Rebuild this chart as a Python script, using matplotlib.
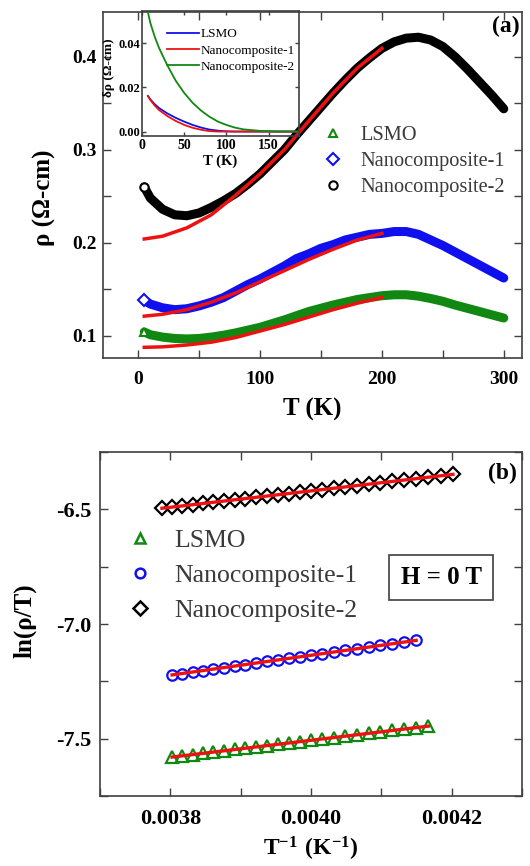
import matplotlib
matplotlib.use("Agg")
import matplotlib.pyplot as plt
import numpy as np
from matplotlib.ticker import MultipleLocator

plt.rcParams["font.family"] = ["Liberation Serif", "DejaVu Serif"]
plt.rcParams["axes.unicode_minus"] = False
plt.rcParams["mathtext.fontset"] = "custom"
plt.rcParams["mathtext.rm"] = "Liberation Serif"
plt.rcParams["mathtext.bf"] = "Liberation Serif:bold"

# ---- panel (a): resistivity vs T ----
T_data = [5, 10, 20, 30, 40, 50, 60, 70, 80, 90, 100, 110, 120, 130, 140, 150,
          160, 170, 180, 190, 200, 210, 220, 230, 240, 250, 260, 270, 280, 290, 300]
rho_lsmo = [0.104, 0.101, 0.0985, 0.097, 0.0965, 0.097, 0.0985, 0.1005, 0.103, 0.106,
            0.109, 0.113, 0.117, 0.1215, 0.126, 0.1295, 0.133, 0.136, 0.139, 0.141,
            0.143, 0.144, 0.144, 0.1425, 0.140, 0.137, 0.133, 0.1295, 0.126, 0.1225, 0.119]
rho_nc1 = [0.138, 0.134, 0.130, 0.128, 0.129, 0.132, 0.136, 0.141, 0.148, 0.155,
           0.161, 0.168, 0.175, 0.183, 0.188, 0.194, 0.198, 0.203, 0.206, 0.209,
           0.210, 0.212, 0.212, 0.209, 0.203, 0.197, 0.190, 0.183, 0.176, 0.169, 0.162]
rho_nc2 = [0.260, 0.248, 0.236, 0.230, 0.229, 0.232, 0.238, 0.245, 0.253, 0.263,
           0.274, 0.287, 0.300, 0.316, 0.331, 0.346, 0.361, 0.375, 0.388, 0.399,
           0.409, 0.416, 0.420, 0.421, 0.418, 0.411, 0.400, 0.387, 0.373, 0.359, 0.344]

T_fit = [5, 20, 40, 60, 80, 100, 120, 140, 160, 180, 200]
fit_lsmo = [0.0875, 0.088, 0.090, 0.093, 0.098, 0.105, 0.112, 0.120, 0.128, 0.135, 0.141]
fit_nc1 = [0.121, 0.123, 0.128, 0.136, 0.146, 0.158, 0.170, 0.182, 0.193, 0.203, 0.210]
fit_nc2 = [0.204, 0.207, 0.216, 0.230, 0.251, 0.274, 0.300, 0.331, 0.361, 0.388, 0.409]

# inset: delta rho
T_in = [7, 10, 15, 20, 30, 40, 50, 60, 70, 80, 90, 100, 110, 120, 140, 160, 185]
drho_lsmo = [0.0161, 0.0145, 0.0124, 0.0107, 0.0082, 0.0062, 0.0045, 0.0030, 0.0018,
             0.0009, 0.0004, 0.0001, 0, 0, 0, 0, 0]
drho_nc1 = [0.0161, 0.0142, 0.0118, 0.0098, 0.0070, 0.0048, 0.0030, 0.0017, 0.0008,
            0.0002, 0, 0, 0, 0, 0, 0, 0]
drho_nc2 = [0.054, 0.049, 0.043, 0.038, 0.030, 0.023, 0.0175, 0.013, 0.0095, 0.0067,
            0.0045, 0.0030, 0.0018, 0.0010, 0.0003, 0, 0]

# ---- panel (b): ln(rho/T) vs 1/T ----
T_b_lsmo = list(range(240, 264))
ln_lsmo = [-7.445, -7.452, -7.458, -7.464, -7.470, -7.477, -7.483, -7.489, -7.495,
           -7.501, -7.507, -7.513, -7.519, -7.524, -7.530, -7.536, -7.542, -7.547,
           -7.553, -7.558, -7.564, -7.569, -7.575, -7.580]
T_b_nc1 = list(range(241, 264))
ln_nc1 = [-7.071, -7.079, -7.086, -7.093, -7.101, -7.108, -7.115, -7.122, -7.129,
          -7.136, -7.143, -7.150, -7.157, -7.163, -7.170, -7.177, -7.183, -7.190,
          -7.196, -7.203, -7.209, -7.216, -7.222]
T_b_nc2 = list(range(238, 265))
ln_nc2 = [-6.347, -6.354, -6.360, -6.366, -6.372, -6.378, -6.384, -6.390, -6.396,
          -6.402, -6.408, -6.414, -6.419, -6.425, -6.431, -6.436, -6.442, -6.447,
          -6.453, -6.458, -6.464, -6.469, -6.474, -6.480, -6.485, -6.490, -6.495]

labels = ["LSMO", "Nanocomposite-1", "Nanocomposite-2"]
GREEN, BLUE, RED, BLACK = "#118811", "#1010ee", "#ee1111", "black"
SPINE = "#404040"


def style_axes(ax, size, pad_x, pad_y, length=6):
    for s in ax.spines.values():
        s.set_color(SPINE)
        s.set_linewidth(1.2)
    ax.tick_params(which="both", direction="in", top=True, right=True,
                   color=SPINE, width=1.0)
    ax.tick_params(which="major", length=length)
    ax.tick_params(which="minor", length=length)
    ax.tick_params(axis="x", pad=pad_x)
    ax.tick_params(axis="y", pad=pad_y)
    for lab in ax.get_xticklabels() + ax.get_yticklabels():
        lab.set_fontweight("bold")
        lab.set_fontsize(size)


fig = plt.figure(figsize=(5.30, 8.66), dpi=100)
ax1 = fig.add_axes([0.194, 0.5866, 0.791, 0.3994])
ax_in = fig.add_axes([0.268, 0.843, 0.296, 0.144])
ax2 = fig.add_axes([0.189, 0.0808, 0.796, 0.3972])

# panel (a)
for rho, col, mk in [(rho_lsmo, GREEN, "^"), (rho_nc1, BLUE, "D"), (rho_nc2, BLACK, "o")]:
    ax1.plot(T_data, rho, "-", color=col, lw=6.5, solid_capstyle="round", zorder=2)
    ax1.plot(T_data[:1], rho[:1], mk, color=col, mfc="white", ms=6, mew=1.5, zorder=3)
for fit in [fit_lsmo, fit_nc1, fit_nc2]:
    ax1.plot(T_fit, fit, "-", color=RED, lw=2.5, zorder=4)

hs = [ax1.plot([], [], mk, color=c, mfc="none", ms=6, mew=1.5)[0]
      for mk, c in [("^", GREEN), ("D", BLUE), ("o", BLACK)]]
leg = ax1.legend(hs, labels, loc="upper left", bbox_to_anchor=(0.525, 0.672),
                 frameon=False, fontsize=14.7, handlelength=1.0, handletextpad=0.85,
                 labelspacing=0.33, borderpad=0, borderaxespad=0)
for t in leg.get_texts():
    t.set_color("#3a3a3a")

ax1.set_xlim(-29, 315)
ax1.set_ylim(0.076, 0.448)
ax1.xaxis.set_minor_locator(MultipleLocator(50))
ax1.yaxis.set_minor_locator(MultipleLocator(0.05))
ax1.set_xticks([0, 100, 200, 300])
ax1.set_xticklabels(["0", "100", "200", "300"])
ax1.set_yticks([0.1, 0.2, 0.3, 0.4])
ax1.set_yticklabels(["0.1", "0.2", "0.3", "0.4"])
style_axes(ax1, 14, 9, 4.5)
ax1.set_xlabel("T (K)", fontsize=18, fontweight="bold", labelpad=7.5)
ax1.set_ylabel("ρ (Ω-cm)", fontsize=18, fontweight="bold")
ax1.yaxis.set_label_coords(-0.112, 0.462)
ax1.text(0.995, 0.96, "(a)", transform=ax1.transAxes, ha="right", va="center",
         fontsize=17, fontweight="bold")

# inset
ax_in.patch.set_alpha(0)
ax_in.plot(T_in, drho_lsmo, color=BLUE, lw=1.3, label=labels[0])
ax_in.plot(T_in, drho_nc1, color=RED, lw=1.3, label=labels[1])
ax_in.plot(T_in, drho_nc2, color=GREEN, lw=1.3, label=labels[2])
ax_in.set_xlim(0, 186)
ax_in.set_ylim(-0.002, 0.0545)
ax_in.set_xticks([0, 50, 100, 150])
ax_in.set_xticklabels(["0", "50", "100", "150"])
ax_in.set_yticks([0.0, 0.02, 0.04])
ax_in.set_yticklabels(["0.00", "0.02", "0.04"])
style_axes(ax_in, 10, 2, 1.2, length=3)
for lab in ax_in.get_yticklabels():
    lab.set_fontsize(9)
ax_in.set_xlabel("T (K)", fontsize=10.5, fontweight="bold", labelpad=2)
ax_in.set_ylabel("δρ (Ω-cm)", fontsize=9.5, fontweight="bold")
ax_in.yaxis.set_label_coords(-0.17, 0.55)
ax_in.legend(loc="upper left", bbox_to_anchor=(0.16, 0.864), frameon=False,
             fontsize=9.5, handlelength=2.4, handletextpad=0.15, labelspacing=0.3,
             borderpad=0, borderaxespad=0)

# panel (b)
for Tb, y, col, mk, ms in [(T_b_lsmo, ln_lsmo, GREEN, "^", 8),
                           (T_b_nc1, ln_nc1, BLUE, "o", 7.5),
                           (T_b_nc2, ln_nc2, BLACK, "D", 7)]:
    invT = 1.0 / np.array(Tb, dtype=float)
    ax2.plot(invT, y, mk, color=col, mfc="none", ms=ms, mew=1.6, zorder=2)
    p = np.polyfit(invT, y, 1)
    xs = np.array([invT.min(), invT.max()])
    ax2.plot(xs, np.polyval(p, xs), "-", color=RED, lw=2.4, zorder=3)

hs2 = [ax2.plot([], [], mk, color=c, mfc="none", ms=7, mew=1.8)[0]
       for mk, c in [("^", GREEN), ("o", BLUE), ("D", BLACK)]]
leg2 = ax2.legend(hs2, labels, loc="upper left", bbox_to_anchor=(0.064, 0.775),
                  frameon=False, fontsize=18.5, handlelength=1.0, handletextpad=0.85,
                  labelspacing=0.45, borderpad=0, borderaxespad=0)
for t in leg2.get_texts():
    t.set_color("#3a3a3a")

ax2.set_xlim(0.0037, 0.0043)
ax2.set_ylim(-7.75, -6.25)
ax2.set_xticks([0.0038, 0.0040, 0.0042])
ax2.set_xticklabels(["0.0038", "0.0040", "0.0042"])
ax2.xaxis.set_minor_locator(MultipleLocator(0.0001))
ax2.set_yticks([-6.5, -7.0, -7.5])
ax2.set_yticklabels(["-6.5", "-7.0", "-7.5"])
ax2.yaxis.set_minor_locator(MultipleLocator(0.25))
style_axes(ax2, 16, 9.5, 6)
ax2.set_xlabel(r"$\mathbf{T^{-1}\ (K^{-1})}$", fontsize=17, labelpad=4)
ax2.set_ylabel("ln(ρ/T)", fontsize=18, fontweight="bold")
ax2.yaxis.set_label_coords(-0.152, 0.51)
ax2.text(0.988, 0.939, "(b)", transform=ax2.transAxes, ha="right", va="center",
         fontsize=17, fontweight="bold")
ax2.text(0.808, 0.635, "H = 0 T", transform=ax2.transAxes, ha="center", va="center",
         fontsize=18, fontweight="bold",
         bbox=dict(boxstyle="square,pad=0.45", fc="white", ec=SPINE, lw=1.2))

fig.savefig("out.png", dpi=100)
